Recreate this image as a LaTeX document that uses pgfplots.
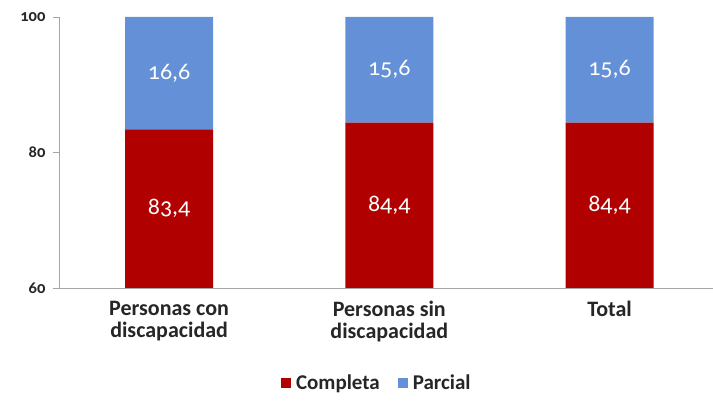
\documentclass[border=0pt]{standalone}
\usepackage{fontspec}
\setmainfont{Carlito}
\newfontfamily\cf{Carlito}[RawFeature=+onum]
\usepackage{pgfplots}
\pgfplotsset{compat=1.18}
\definecolor{cred}{HTML}{B00000}
\definecolor{cblue}{HTML}{6490D8}
\definecolor{axgray}{HTML}{A6A6A6}
\begin{document}
\begin{tikzpicture}
\begin{axis}[
  at={(0,0)}, anchor=south west,
  scale only axis, width=654pt, height=271pt,
  xmin=-0.5, xmax=2.47, ymin=60, ymax=100,
  ybar stacked, bar width=88pt,
  axis x line*=bottom, axis y line*=left,
  axis line style={axgray, line width=0.8pt},
  tick align=outside,
  major tick length=6pt,
  ytick={60,80,100},
  yticklabels={{\cf\bfseries 60},{\cf\bfseries 80},{\cf\bfseries 100}},
  ytick style={axgray, line width=0.8pt},
  y tick label style={font=\fontsize{16.5}{16.5}\selectfont\bfseries, text=black!85, xshift=-4pt},
  /pgf/number format/assume math mode=true,
  xtick={0,1,2},
  xticklabels={{Personas con\\discapacidad},{Personas sin\\discapacidad},{Total}},
  xtick style={draw=none},
  x tick label style={align=center, font=\fontsize{22}{21.5}\selectfont\bfseries, text=black!85, yshift=-4pt},
  extra x ticks={0.5,1.5,2.5},
  extra x tick labels={},
  extra x tick style={tick style={draw=axgray, line width=0.8pt}},
  legend style={at={(0.486,-0.35)}, anchor=center, draw=none, fill=none,
    legend columns=2, font=\fontsize{21}{21}\selectfont\bfseries, text=black!85,
    /tikz/every even column/.append style={column sep=16pt}},
  legend image code/.code={\fill[#1] (0pt,-5pt) rectangle (10pt,5pt); \path (13pt,0pt);},
]
\addplot[fill=cred, draw=none] coordinates {(0,83.4) (1,84.4) (2,84.4)};
\addlegendentry{Completa}
\addplot[fill=cblue, draw=none] coordinates {(0,16.6) (1,15.6) (2,15.6)};
\addlegendentry{Parcial}
\end{axis}
\begin{axis}[
  at={(0,0)}, anchor=south west,
  scale only axis, width=654pt, height=271pt,
  xmin=-0.5, xmax=2.47, ymin=60, ymax=100,
  hide axis,
]
\addplot[only marks, mark=none, nodes near coords, point meta=explicit symbolic,
  nodes near coords align=center,
  every node near coord/.append style={text=white, font=\fontsize{24}{24}\selectfont}]
  coordinates {(0,71.7) [{\cf 83,4}] (1,72.2) [{\cf 84,4}] (2,72.2) [{\cf 84,4}]
               (0,91.7) [{\cf 16,6}] (1,92.2) [{\cf 15,6}] (2,92.2) [{\cf 15,6}]};
\end{axis}
\pgfresetboundingbox
\path[use as bounding box] (-59pt,-115pt) rectangle (654pt,288pt);
\end{tikzpicture}
\end{document}
